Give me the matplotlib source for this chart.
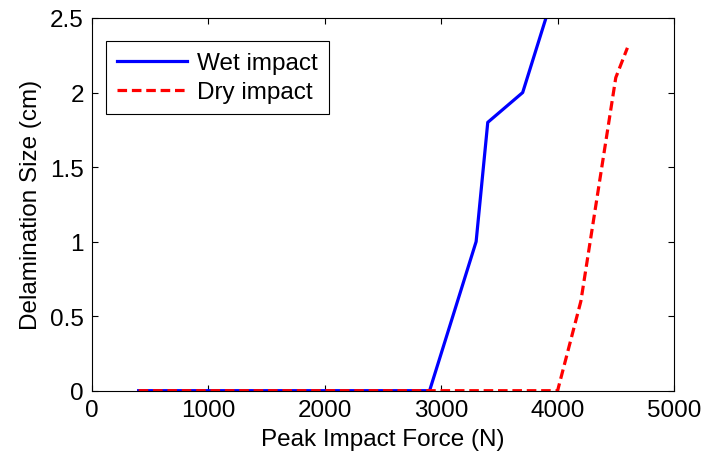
import matplotlib
matplotlib.use('Agg')
import matplotlib.pyplot as plt

plt.rcParams['font.family'] = ['Liberation Sans', 'DejaVu Sans']

# data
wet_force = [400, 2900, 3300, 3400, 3700, 3900]
wet_size = [0, 0, 1.0, 1.8, 2.0, 2.5]
dry_force = [400, 4000, 4200, 4500, 4600]
dry_size = [0, 0, 0.6, 2.1, 2.3]

x_ticks = [0, 1000, 2000, 3000, 4000, 5000]
y_ticks = [0, 0.5, 1, 1.5, 2, 2.5]

fs = 17.5

fig = plt.figure(figsize=(7.03, 4.6), dpi=100)
ax = fig.add_axes([0.131, 0.1485, 0.8277, 0.8102])

ax.plot(wet_force, wet_size, color='#0000ff', lw=2.3, label='Wet impact')
ax.plot(dry_force, dry_size, color='#ff0000', lw=2.3, ls=(0, (3, 1.5)), label='Dry impact')

ax.set_xlim(0, 5000)
ax.set_ylim(0, 2.5)
ax.set_xticks(x_ticks)
ax.set_yticks(y_ticks)
ax.set_yticklabels(['0', '0.5', '1', '1.5', '2', '2.5'])
ax.tick_params(direction='in', top=True, right=True, labelsize=fs, length=4, width=0.8)
ax.tick_params(axis='x', pad=6)
ax.tick_params(axis='y', pad=6)
for s in ax.spines.values():
    s.set_linewidth(0.8)

ax.set_xlabel('Peak Impact Force (N)', fontsize=fs, labelpad=5)
ax.set_ylabel('Delamination Size (cm)', fontsize=fs, labelpad=6)

leg = ax.legend(loc='upper left', bbox_to_anchor=(0.024, 0.938), fontsize=fs,
                fancybox=False, framealpha=1, edgecolor='black', borderaxespad=0,
                handlelength=2.9, handletextpad=0.4, labelspacing=0.3, borderpad=0.45)
leg.get_frame().set_linewidth(0.8)

fig.savefig('out.png', dpi=100)
